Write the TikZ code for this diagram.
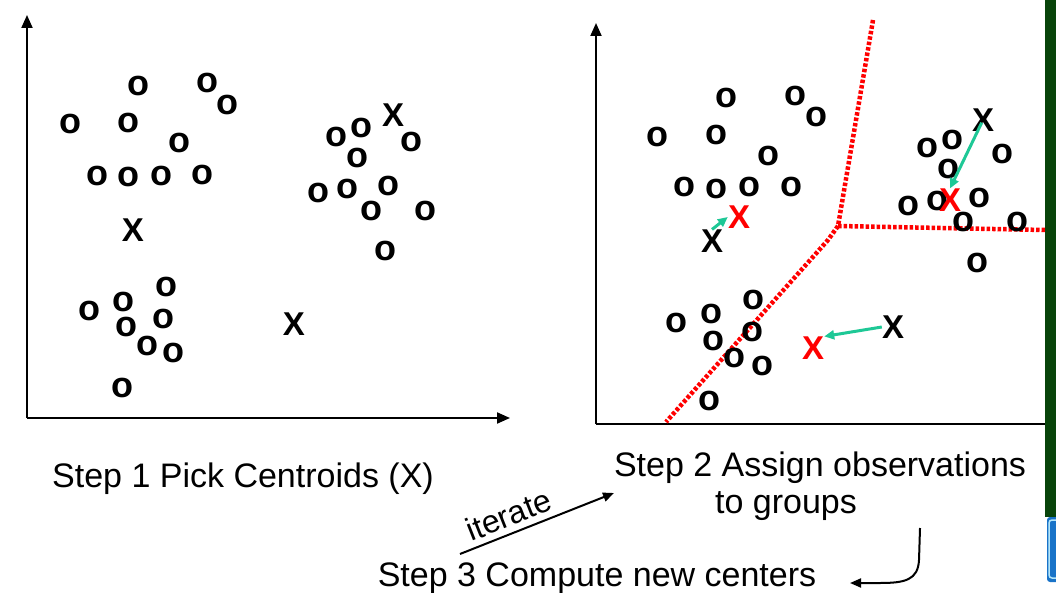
\documentclass[tikz,border=0pt]{standalone}
\usepackage{fontspec}
\setmainfont{Liberation Sans}
\usetikzlibrary{arrows.meta}
\definecolor{barGreen}{RGB}{8,68,10}
\definecolor{moveGreen}{RGB}{30,200,150}
\definecolor{logoBlue}{RGB}{25,115,200}
\begin{document}
\begin{tikzpicture}[x=1pt,y=-1pt,
  obs/.style={inner sep=0pt,font=\fontsize{36}{36}\selectfont\bfseries},
  cen/.style={inner sep=0pt,font=\fontsize{33}{33}\selectfont\bfseries},
  newcen/.style={cen,text=red},
  lbl/.style={inner sep=0pt,anchor=base,font=\fontsize{34}{40}\selectfont},
  axis/.style={line width=2pt,-{Triangle[length=13pt,width=11pt]}},
  bound/.style={red,line width=4.5pt,dash pattern=on 3.5pt off 2pt},
  move/.style={moveGreen,line width=3pt,-{Triangle[length=10pt,width=9pt]}}]
\useasboundingbox (0,0) rectangle (1056,593);

\coordinate (la0) at (27,418);
\coordinate (lay) at (27,15);
\coordinate (lax) at (510,418);
\draw[axis] (la0) -- (lay);
\draw[axis] (la0) -- (lax);

\coordinate (ra0) at (596,424);
\coordinate (ray) at (596,23);
\coordinate (rax) at (1045,424);
\draw[axis] (ra0) -- (ray);
\draw[line width=2pt] (ra0) -- (rax);

\coordinate (bt) at (873,20);
\coordinate (bj) at (838,226);
\coordinate (br) at (1045,230);
\coordinate (bk) at (828,240);
\coordinate (bb) at (666,422);
\draw[bound] (bt) -- (bj) -- (br);
\draw[bound] (bj) -- (bk) -- (bb);

\foreach \x/\y [count=\i] in {138/86,207/83,227/105,70/124,128/123,179/143,97/176,128/177,161/176,202/175,
  361/128,336/137,411/142,357/158,318/193,347/189,388/186,371/211,425/211,385/251,
  166/287,123/302,89/311,163/319,126/327,147/346,173/353,122/388}
  \node[obs] (l\i) at (\x,\y) {o};
\node[cen] (lx1) at (133,230) {X};
\node[cen] (lx2) at (393,115) {X};
\node[cen] (lx3) at (294,324) {X};

\foreach \x/\y [count=\i] in {726/98,795/96,816/117,657/137,716/135,768/156,684/187,716/189,749/187,791/187,
  952/140,927/148,1002/154,948/169,908/206,937/201,979/198,963/222,1017/222,977/263,
  753/300,711/314,676/323,752/332,713/341,734/358,762/366,709/401}
  \node[obs] (r\i) at (\x,\y) {o};
\node[cen] (bx1) at (712,241) {X};
\node[cen] (bx2) at (983,120) {X};
\node[cen] (bx3) at (893,327) {X};
\node[newcen] (rx1) at (739,217) {X};
\node[newcen] (rx2) at (950,200) {X};
\node[newcen] (rx3) at (813,348) {X};
\draw[move] (bx1.north) -- (rx1.west);
\draw[move, shorten <=3pt] (bx2.center) -- (rx2.north);
\draw[move] (bx3.west) -- (rx3.north east);

\node[lbl] (s1) at (243,487) {Step 1 Pick Centroids (X)};
\node[lbl] (s2) at (820,476) {Step 2 Assign observations};
\node[lbl] (s2b) at (786,513) {to groups};
\node[lbl] (s3) at (597,586) {Step 3 Compute new centers};

\coordinate (it0) at (460,554);
\coordinate (it1) at (614,493);
\draw[line width=2pt,-{Triangle[length=11pt,width=9pt]}] (it0) -- (it1)
  node[pos=0.36,sloped,above=6pt,inner sep=0pt,font=\fontsize{32}{32}\selectfont] (itl) {iterate};

\coordinate (ba0) at (920,528);
\coordinate (ba1) at (850,583);
\draw[line width=2pt,-{Triangle[length=11pt,width=9pt]}] (ba0) -- (919,560)
  .. controls (918,580) and (905,583) .. (880,583) -- (ba1);

\fill[barGreen] (1045,0) rectangle (1056,517);
\fill[logoBlue,rounded corners=3pt] (1047,517) rectangle (1064,582);
\draw[cyan!30,line width=1.5pt,rounded corners=3pt] (1049,520) rectangle (1064,578);
\end{tikzpicture}
\end{document}
